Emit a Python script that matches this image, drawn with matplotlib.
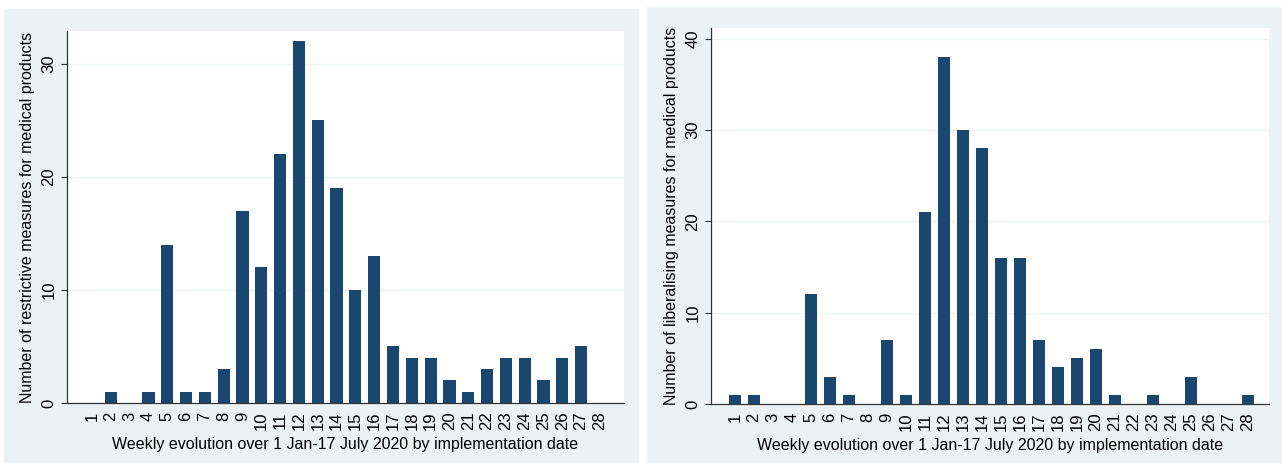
import numpy as np
import matplotlib.pyplot as plt
from matplotlib.patches import Rectangle

plt.rcParams['font.family'] = ['Liberation Sans', 'DejaVu Sans']

weeks = list(range(1, 29))
restrictive = [0, 1, 0, 1, 14, 1, 1, 3, 17, 12, 22, 32, 25, 19, 10, 13,
               5, 4, 4, 2, 1, 3, 4, 4, 2, 4, 5, 0]
liberalising = [1, 1, 0, 0, 12, 3, 1, 0, 7, 1, 21, 38, 30, 28, 16, 16,
                7, 4, 5, 6, 1, 0, 1, 0, 3, 0, 0, 1]

xlabel = "Weekly evolution over 1 Jan-17 July 2020 by implementation date"
ylabel_left = "Number of restrictive measures for medical products"
ylabel_right = "Number of liberalising measures for medical products"

bar_color = "#1a476f"
panel_bg = "#eaf2f3"
grid_col = "#eaf2f3"

fig = plt.figure(figsize=(12.82, 4.63), dpi=100)
fig.patch.set_facecolor("white")

# panel backgrounds (drawn behind the axes)
fig.patches.append(Rectangle((4 / 1282, 0), 634 / 1282, 454 / 463,
                             transform=fig.transFigure, color=panel_bg, zorder=-10))
fig.patches.append(Rectangle((647 / 1282, 0), 635 / 1282, 456 / 463,
                             transform=fig.transFigure, color=panel_bg, zorder=-10))


def draw(ax, values, ylabel, yticks, ylim, xlim):
    ax.set_facecolor("white")
    ax.bar(weeks, values, width=0.65, color=bar_color, zorder=3)
    ax.set_xlim(*xlim)
    ax.set_ylim(*ylim)
    ax.set_yticks(yticks)
    ax.set_xticks(weeks)
    ax.set_xticklabels([str(w) for w in weeks], rotation=90, fontsize=12)
    ax.set_yticklabels([str(t) for t in yticks], rotation=90, va="center", fontsize=12)
    ax.tick_params(axis="x", length=0, pad=6)
    ax.tick_params(axis="y", length=4.5, width=0.8, color="#333333", pad=3)
    ax.yaxis.grid(True, color=grid_col, linewidth=1.0, zorder=0)
    ax.set_axisbelow(True)
    for s in ["top", "right"]:
        ax.spines[s].set_visible(False)
    for s in ["left", "bottom"]:
        ax.spines[s].set_color("#333333")
        ax.spines[s].set_linewidth(0.9)
    ax.set_xlabel(xlabel, fontsize=11.5, labelpad=5)
    ax.set_ylabel(ylabel, fontsize=11.5, labelpad=5)


ax1 = fig.add_axes([67 / 1282, 60 / 463, 557 / 1282, 372 / 463])
draw(ax1, restrictive, ylabel_left, [0, 10, 20, 30], (0, 32.9), (-0.33, 29.28))

ax2 = fig.add_axes([711 / 1282, 59 / 463, 558 / 1282, 376 / 463])
draw(ax2, liberalising, ylabel_right, [0, 10, 20, 30, 40], (0, 41.2), (-0.26, 29.1))

fig.savefig("out.png", dpi=100)
